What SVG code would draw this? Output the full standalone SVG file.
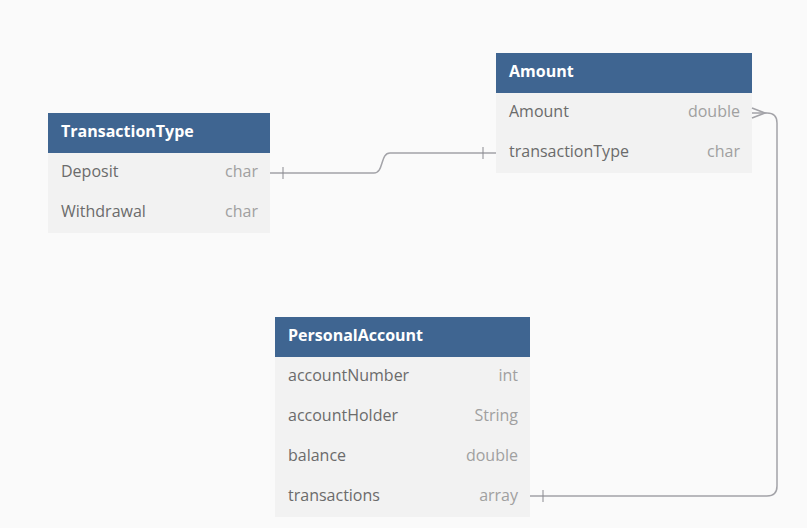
<svg xmlns="http://www.w3.org/2000/svg" width="807" height="528" viewBox="0 0 807 528">
<style>
.hdr{fill:#3f6591}
.row{fill:#f2f2f2}
.ht{font-family:"Open Sans",sans-serif;font-size:16px;font-weight:bold;fill:#ffffff}
.fn{font-family:"Open Sans",sans-serif;font-size:16px;fill:#6b6b6b}
.ft{font-family:"Open Sans",sans-serif;font-size:16px;fill:#a0a0a0;text-anchor:end}
.ln{fill:none;stroke:#a3a3a8;stroke-width:1.5}
.tk{fill:none;stroke:#8a8a90;stroke-width:1}
</style>
<rect width="807" height="528" fill="#fafafa"/>
<g id="TransactionType">
<rect class="row" x="48" y="113" width="222" height="120"/>
<rect class="hdr" x="48" y="113" width="222" height="40"/>
<text class="ht" x="61" y="137">TransactionType</text>
<text class="fn" x="61" y="177">Deposit</text><text class="ft" x="258" y="177">char</text>
<text class="fn" x="61" y="217">Withdrawal</text><text class="ft" x="258" y="217">char</text>
</g>
<g id="Amount">
<rect class="row" x="496" y="53" width="256" height="120"/>
<rect class="hdr" x="496" y="53" width="256" height="40"/>
<text class="ht" x="509" y="77">Amount</text>
<text class="fn" x="509" y="117">Amount</text><text class="ft" x="740" y="117">double</text>
<text class="fn" x="509" y="157">transactionType</text><text class="ft" x="740" y="157">char</text>
</g>
<g id="PersonalAccount">
<rect class="row" x="275" y="317" width="255" height="200"/>
<rect class="hdr" x="275" y="317" width="255" height="40"/>
<text class="ht" x="288" y="341">PersonalAccount</text>
<text class="fn" x="288" y="381">accountNumber</text><text class="ft" x="518" y="381">int</text>
<text class="fn" x="288" y="421">accountHolder</text><text class="ft" x="518" y="421">String</text>
<text class="fn" x="288" y="461">balance</text><text class="ft" x="518" y="461">double</text>
<text class="fn" x="288" y="501">transactions</text><text class="ft" x="518" y="501">array</text>
</g>
<g id="connectors">
<path class="ln" d="M270,173 H374 C384,173 380,153 390,153 H496"/>
<path class="tk" d="M283,167 V179 M483,147 V159"/>
<path class="ln" d="M530,496 H767 Q777,496 777,486 V123 Q777,113 767,113 H752"/>
<path class="ln" d="M752,108 L765,113 L752,118"/>
<path class="tk" d="M543,490 V502"/>
</g>
</svg>
